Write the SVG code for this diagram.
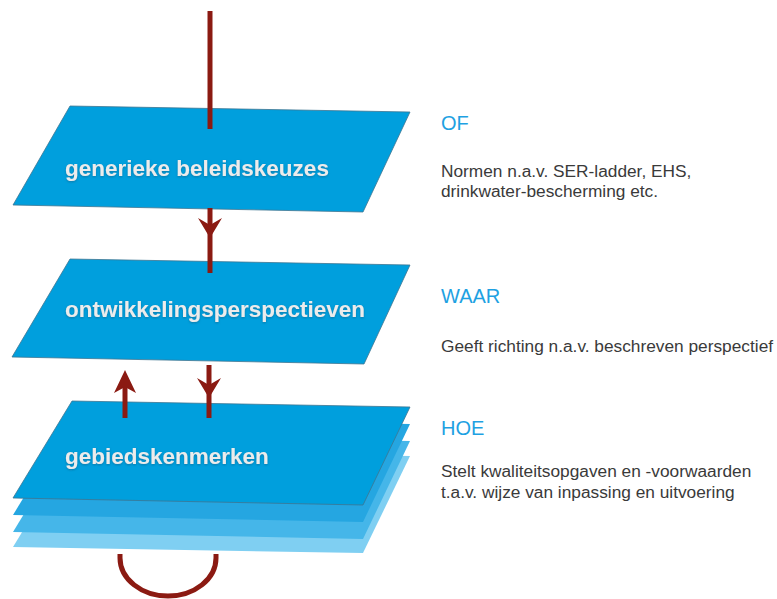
<svg xmlns="http://www.w3.org/2000/svg" width="777" height="599" viewBox="0 0 777 599">
  <defs>
    <style>
      .plane { fill: #009fdd; stroke: #3d7590; stroke-width: 0.8; stroke-linejoin: round; }
      .label { font-family: "Liberation Sans", Arial, Helvetica, sans-serif; font-weight: bold; font-size: 22.5px; fill: #ececec; }
      .head { font-family: "Liberation Sans", Arial, Helvetica, sans-serif; font-size: 20px; fill: #1ea1e2; }
      .note { font-family: "Liberation Sans", Arial, Helvetica, sans-serif; font-size: 17.3px; fill: #3a3a3a; }
      .wire { stroke: #8b1a12; stroke-width: 5; fill: none; }
      .tip { fill: #8b1a12; }
    </style>
    <filter id="soft" x="-5%" y="-20%" width="110%" height="140%">
      <feGaussianBlur in="SourceAlpha" stdDeviation="0.8"/>
      <feOffset dx="0" dy="0.6" result="b"/>
      <feFlood flood-color="#1a5f85" flood-opacity="0.6"/>
      <feComposite in2="b" operator="in"/>
      <feMerge><feMergeNode/><feMergeNode in="SourceGraphic"/></feMerge>
    </filter>
  </defs>

  <!-- stacked layers under the lowest plane -->
  <g id="layers">
    <polygon points="72,450 410,456 363,553 13,547" fill="#7fcff2"/>
    <polygon points="72,435 410,441 363,539 13,532" fill="#45b6e9"/>
    <polygon points="72,418 410,424 363,522 13,515" fill="#25a6e1"/>
  </g>

  <g id="node-generiek">
    <polygon class="plane" points="70,106 410,112 363,212 13,205"/>
    <text class="label" x="65" y="176" filter="url(#soft)">generieke beleidskeuzes</text>
  </g>

  <g id="node-ontwikkeling">
    <polygon class="plane" points="70,259 410,265 364,364 12,357"/>
    <text class="label" x="65" y="317" filter="url(#soft)">ontwikkelingsperspectieven</text>
  </g>

  <g id="node-gebied">
    <polygon class="plane" points="72,401 410,407 363,505 13,498"/>
    <text class="label" x="65" y="464" filter="url(#soft)">gebiedskenmerken</text>
  </g>

  <g id="connectors">
    <line class="wire" x1="210" y1="11" x2="210" y2="129"/>

    <line class="wire" x1="210" y1="208" x2="210" y2="273"/>
    <path class="tip" d="M210,238 L198,218 L210,225 L222,218 Z"/>

    <line class="wire" x1="209" y1="365" x2="209" y2="418"/>
    <path class="tip" d="M209,398 L197,378 L209,385 L221,378 Z"/>

    <line class="wire" x1="125" y1="418" x2="125" y2="385"/>
    <path class="tip" d="M125,370 L114,393 L125,387 L136,393 Z"/>

    <path class="wire" d="M120,554 V558 A48,38 0 0 0 216,558 V554"/>
  </g>

  <g id="notes">
    <text class="head" x="441" y="130">OF</text>
    <text class="note" x="441" y="177">Normen n.a.v. SER-ladder, EHS,</text>
    <text class="note" x="441" y="197">drinkwater-bescherming etc.</text>

    <text class="head" x="441" y="303">WAAR</text>
    <text class="note" x="441" y="352">Geeft richting n.a.v. beschreven perspectief</text>

    <text class="head" x="441" y="435">HOE</text>
    <text class="note" x="441" y="477">Stelt kwaliteitsopgaven en -voorwaarden</text>
    <text class="note" x="441" y="498">t.a.v. wijze van inpassing en uitvoering</text>
  </g>
</svg>
